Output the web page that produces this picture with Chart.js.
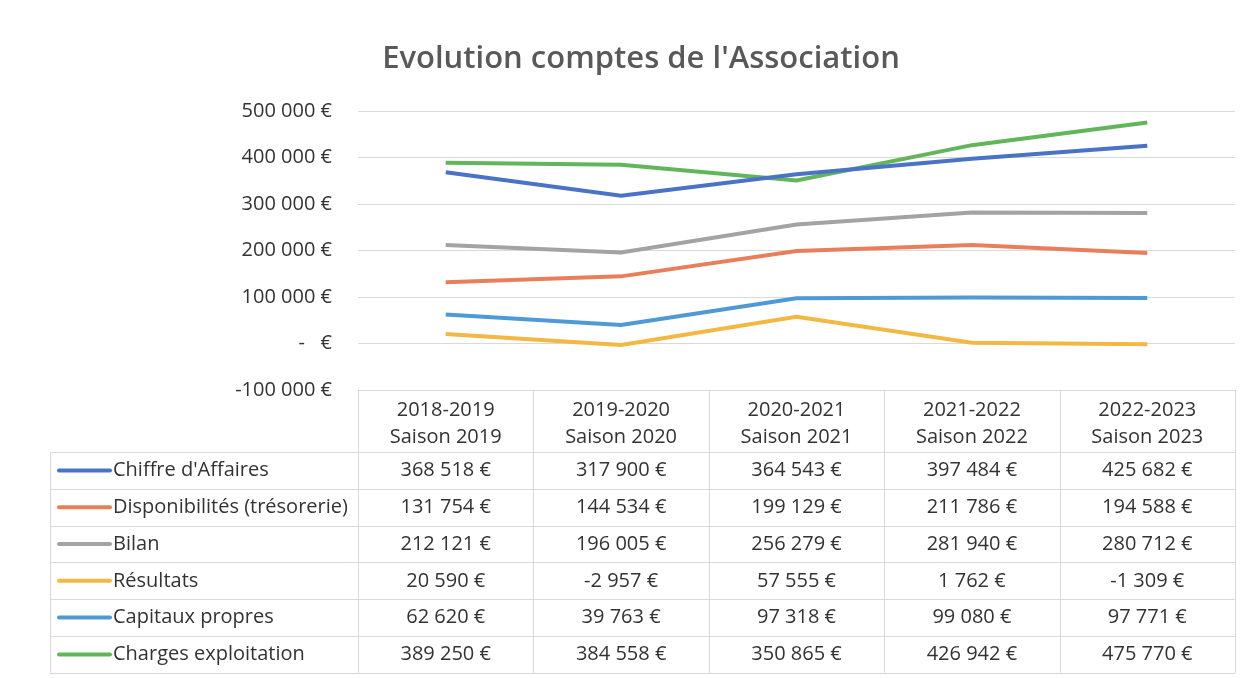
<!DOCTYPE html>
<html>
<head>
<meta charset="utf-8">
<script src="https://cdn.jsdelivr.net/npm/chart.js@4.4.1/dist/chart.umd.min.js"></script>
<style>
  html, body { margin: 0; padding: 0; background: #fff; }
  #wrap { width: 1248px; height: 678px; }
</style>
</head>
<body>
<div id="wrap"><canvas id="chart" width="1248" height="678"></canvas></div>
<script>
// Seasons (two lines each in the data table)
const seasons = ['2018-2019', '2019-2020', '2020-2021', '2021-2022', '2022-2023']
const seasonNames = ['Saison 2019', 'Saison 2020', 'Saison 2021', 'Saison 2022', 'Saison 2023']

// Series values, in euros
const chiffreAffaires = [368518, 317900, 364543, 397484, 425682]
const disponibilites = [131754, 144534, 199129, 211786, 194588]
const bilan = [212121, 196005, 256279, 281940, 280712]
const resultats = [20590, -2957, 57555, 1762, -1309]
const capitauxPropres = [62620, 39763, 97318, 99080, 97771]
const chargesExploitation = [389250, 384558, 350865, 426942, 475770]

const FONT = "'Open Sans', Lato, sans-serif"
const TEXT = '#333333'
const GRID = '#d9d9d9'

// 368518 -> "368 518 €"
function euro(v) {
    if (v === 0) return '-   €'
    const neg = v < 0
    let s = String(Math.abs(Math.round(v)))
    let out = ''
    while (s.length > 3) {
        out = ' ' + s.slice(-3) + out
        s = s.slice(0, -3)
    }
    return (neg ? '-' : '') + s + out + ' €'
}

function serie(label, data, color) {
    return {
        label: label,
        data: data,
        borderColor: color,
        backgroundColor: color,
        borderWidth: 4,
        pointRadius: 0,
        pointHoverRadius: 0,
        tension: 0
    }
}

const datasets = [
    serie("Chiffre d'Affaires", chiffreAffaires, '#4a72c6'),
    serie('Disponibilités (trésorerie)', disponibilites, '#e97f5a'),
    serie('Bilan', bilan, '#a3a3a3'),
    serie('Résultats', resultats, '#f3b743'),
    serie('Capitaux propres', capitauxPropres, '#4d9ad6'),
    serie('Charges exploitation', chargesExploitation, '#63b55c')
]

const rowHeight = 36.8  // height of a data-table row
const headerHeight = 62 // two-line season header

// Draws the Excel-style data table below the plot, column positions come from the x scale
const dataTablePlugin = {
    id: 'dataTable',
    afterDraw(chart) {
        const ctx = chart.ctx
        const x = chart.scales.x
        const area = chart.chartArea
        const colW = x.width / seasons.length
        const top = area.bottom
        const headBottom = top + headerHeight
        const bottom = headBottom + rowHeight * datasets.length
        const tableLeft = 50

        ctx.save()
        ctx.strokeStyle = GRID
        ctx.lineWidth = 1

        // horizontal lines
        ctx.beginPath()
        for (let r = 0; r <= datasets.length; r++) {
            const y = Math.round(headBottom + r * rowHeight) + 0.5
            ctx.moveTo(tableLeft, y)
            ctx.lineTo(area.right, y)
        }
        // vertical lines
        for (let c = 0; c <= seasons.length; c++) {
            const xx = Math.round(x.left + c * colW) + 0.5
            ctx.moveTo(xx, top)
            ctx.lineTo(xx, bottom)
        }
        ctx.moveTo(tableLeft + 0.5, headBottom)
        ctx.lineTo(tableLeft + 0.5, bottom)
        ctx.stroke()

        // header
        ctx.fillStyle = TEXT
        ctx.font = '20px ' + FONT
        ctx.textAlign = 'center'
        ctx.textBaseline = 'middle'
        seasons.forEach((s, i) => {
            const cx = x.getPixelForValue(i)
            ctx.fillText(s, cx, top + 20)
            ctx.fillText(seasonNames[i], cx, top + 47)
        })

        // rows: legend key, name, values
        datasets.forEach((ds, r) => {
            const cy = headBottom + (r + 0.5) * rowHeight
            ctx.strokeStyle = ds.borderColor
            ctx.lineWidth = 4
            ctx.lineCap = 'round'
            ctx.beginPath()
            ctx.moveTo(59, cy)
            ctx.lineTo(110, cy)
            ctx.stroke()

            ctx.textAlign = 'left'
            ctx.fillText(ds.label, 113, cy)
            ctx.textAlign = 'center'
            ds.data.forEach((v, i) => {
                ctx.fillText(euro(v), x.getPixelForValue(i), cy)
            })
        })
        ctx.restore()
    }
}

const config = {
    type: 'line',
    data: {
        labels: seasons,
        datasets: datasets
    },
    options: {
        responsive: false,
        animation: false,
        events: [],
        layout: {
            padding: { left: 47, right: 13, top: 0, bottom: 280 }
        },
        scales: {
            x: {
                offset: true,
                grid: { display: false },
                border: { display: false },
                ticks: { display: false }
            },
            y: {
                min: -100000,
                max: 500000,
                ticks: {
                    stepSize: 100000,
                    padding: 26,
                    color: TEXT,
                    font: { family: FONT, size: 20 },
                    callback: (value) => euro(value)
                },
                grid: { color: GRID, drawTicks: false },
                border: { display: false },
                afterFit: (scale) => { scale.width = 311 }
            }
        },
        plugins: {
            legend: { display: false },
            tooltip: { enabled: false },
            title: {
                display: true,
                text: "Evolution comptes de l'Association",
                color: '#595959',
                font: { family: FONT, size: 31, weight: '600', lineHeight: 1.2 },
                padding: { top: 41, bottom: 33 }
            }
        }
    },
    plugins: [dataTablePlugin]
}

const chart = new Chart(document.getElementById('chart'), config)
</script>
</body>
</html>
